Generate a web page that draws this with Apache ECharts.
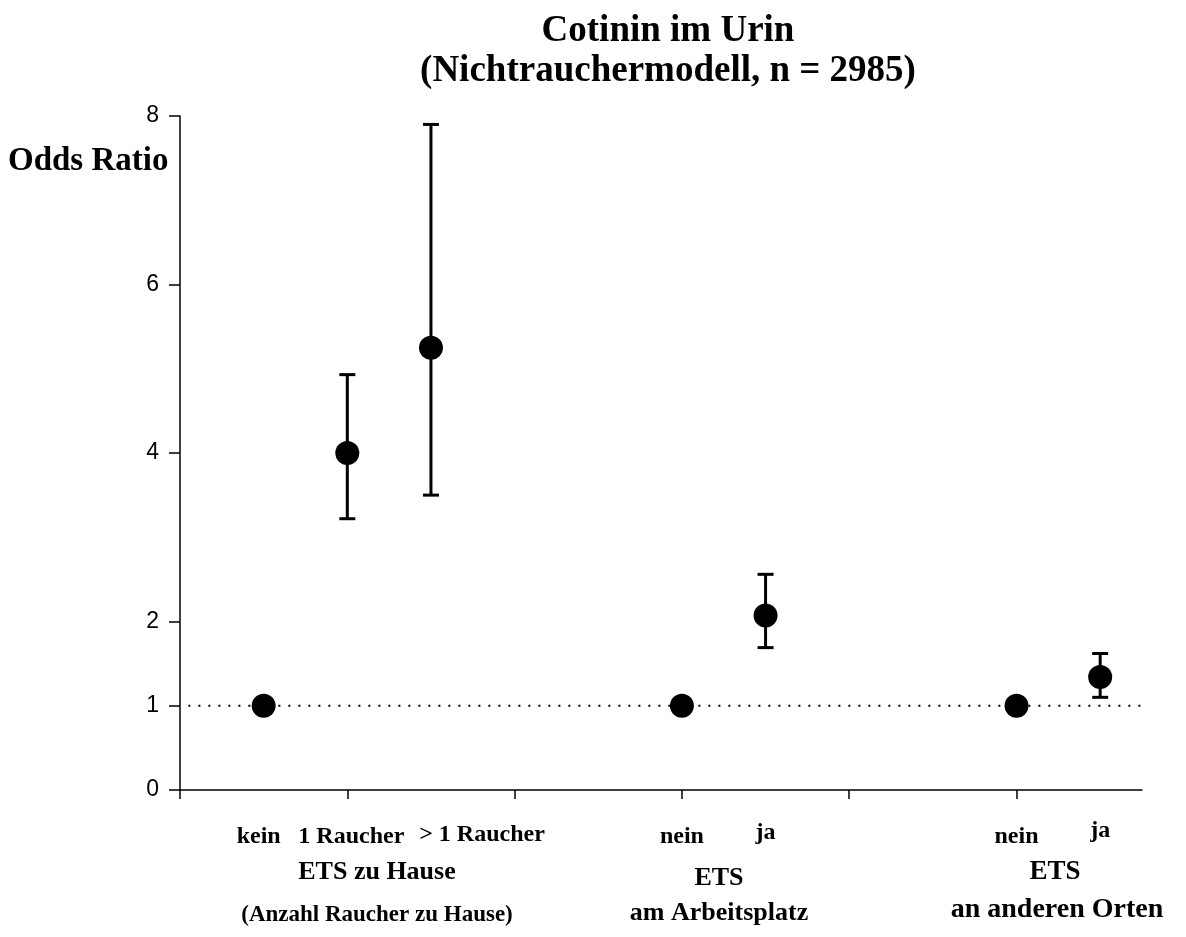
<!DOCTYPE html>
<html><head><meta charset="utf-8">
<script src="https://cdn.jsdelivr.net/npm/echarts@6/dist/echarts.min.js"></script>
<style>html,body{margin:0;padding:0;background:#fff}#c{width:1186px;height:937px}</style>
</head><body><div id="c"></div>
<script>
// Data
const positions = [0.5, 1, 1.5, 3, 3.5, 5, 5.5];
const categoryLabels = ['kein', '1 Raucher', '> 1 Raucher', 'nein', 'ja', 'nein', 'ja'];
const oddsRatio = [1, 4.0, 5.25, 1, 2.07, 1, 1.34];
const ciLower = [null, 3.22, 3.5, null, 1.69, null, 1.1];
const ciUpper = [null, 4.93, 7.9, null, 2.56, null, 1.62];
const yTicks = [0, 1, 2, 4, 6, 8];
const xTicks = [0, 1, 2, 3, 4, 5];
const referenceLine = [[0.05, 1], [5.75, 1]];
const title = ['Cotinin im Urin', '(Nichtrauchermodell, n = 2985)'];
const yName = 'Odds Ratio';

const serif = '"Liberation Serif", "Times New Roman", serif';
const sans = '"Liberation Sans", Arial, sans-serif';

// label placement styling (pixel nudges relative to the data position)
const labelNudge = [[-5, 0], [4, 0], [51, -2], [0, 0], [0, -4], [0, 0], [0, -6]];

const points = positions.map((x, i) => [x, oddsRatio[i]]);
const bars = positions.map((x, i) => [x, ciLower[i], ciUpper[i]]).filter(d => d[1] != null);
const labelData = positions.map((x, i) => [x, 0, i]);

const chart = echarts.init(document.getElementById('c'));
const T = (x, y, text, size) => ({ type: 'text', x, y, style: { text, font: 'bold ' + size + 'px ' + serif, fill: '#000', align: 'center', verticalAlign: 'middle' } });
chart.setOption({
  backgroundColor: '#fff',
  animation: false,
  grid: { left: 180, right: 44, top: 116, bottom: 147 },
  xAxis: {
    type: 'value', min: 0, max: 5.75,
    splitLine: { show: false },
    axisLine: { lineStyle: { color: '#000', width: 1.5 } },
    axisTick: { show: true, length: 9, lineStyle: { color: '#000', width: 1.5 }, customValues: xTicks },
    axisLabel: { show: false }
  },
  yAxis: {
    type: 'value', min: 0, max: 8,
    splitLine: { show: false },
    axisLine: { show: true, lineStyle: { color: '#000', width: 1.5 } },
    axisTick: { show: true, length: 11, lineStyle: { color: '#000', width: 1.5 }, customValues: yTicks },
    axisLabel: { customValues: yTicks, margin: 21, fontFamily: sans, fontSize: 23, color: '#000' }
  },
  graphic: [
    T(668, 31, title[0], 37),
    T(668, 71, title[1], 37),
    { type: 'text', left: 8, top: 145, style: { text: yName, font: 'bold 33px ' + serif, fill: '#000' } },
    T(377, 872, 'ETS zu Hause', 26),
    T(377, 915, '(Anzahl Raucher zu Hause)', 23),
    T(719, 878, 'ETS', 26),
    T(719, 913, 'am Arbeitsplatz', 26),
    T(1055, 872, 'ETS', 27),
    T(1057, 910, 'an anderen Orten', 28)
  ],
  series: [
    {
      type: 'line', data: referenceLine, symbol: 'none', silent: true,
      lineStyle: { color: '#000', width: 2, type: [2, 8] }, z: 1
    },
    {
      type: 'custom', data: bars, z: 2,
      renderItem: (params, api) => {
        const x = api.value(0);
        const lo = api.coord([x, api.value(1)]);
        const hi = api.coord([x, api.value(2)]);
        const hw = 8;
        const style = { stroke: '#000', lineWidth: 3 };
        return { type: 'group', children: [
          { type: 'line', shape: { x1: lo[0], y1: lo[1], x2: hi[0], y2: hi[1] }, style },
          { type: 'line', shape: { x1: lo[0] - hw, y1: lo[1], x2: lo[0] + hw, y2: lo[1] }, style },
          { type: 'line', shape: { x1: hi[0] - hw, y1: hi[1], x2: hi[0] + hw, y2: hi[1] }, style }
        ]};
      }
    },
    {
      type: 'scatter', data: points, symbol: 'circle', symbolSize: 24, z: 3,
      itemStyle: { color: '#000', opacity: 1 }
    },
    {
      type: 'custom', data: labelData, z: 4, silent: true,
      renderItem: (params, api) => {
        const x = api.value(0);
        const i = api.value(2);
        const p = api.coord([x, 0]);
        const n = labelNudge[i];
        return { type: 'text', x: p[0] + n[0], y: p[1] + 47 + n[1],
          style: { text: categoryLabels[i], font: 'bold 24px ' + serif, fill: '#000', align: 'center', verticalAlign: 'middle' } };
      }
    }
  ]
});
</script></body></html>
